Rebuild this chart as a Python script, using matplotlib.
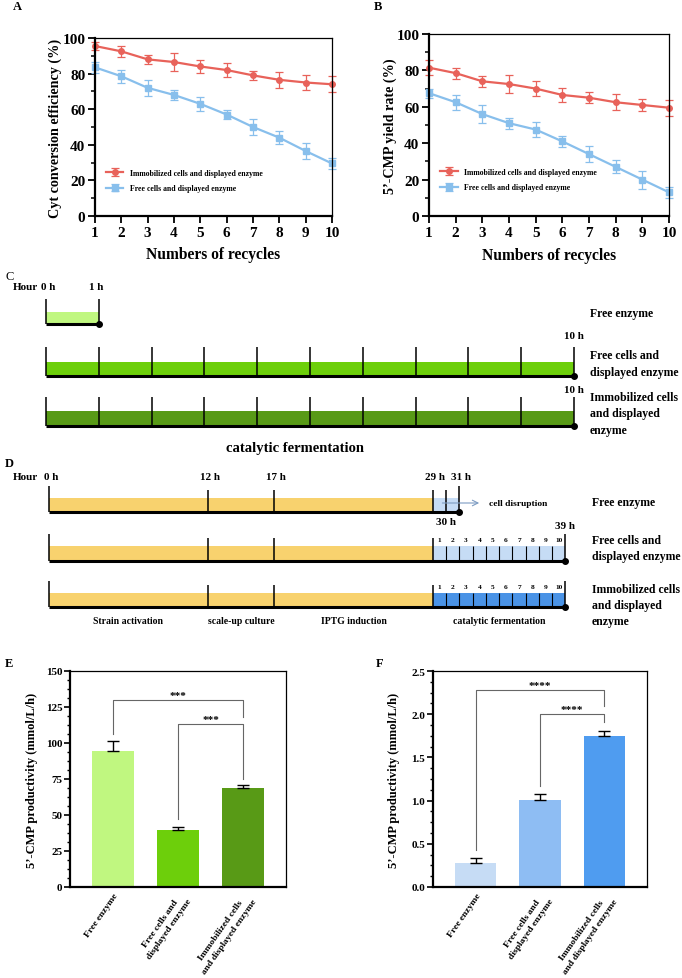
import numpy as np
import matplotlib
matplotlib.use("Agg")
import matplotlib.pyplot as plt
from matplotlib.ticker import MultipleLocator, FormatStrFormatter

plt.rcParams['font.family'] = ['Liberation Serif', 'DejaVu Serif']
plt.rcParams['font.weight'] = 'bold'
plt.rcParams['axes.labelweight'] = 'bold'

W, H = 682, 979

# --- A / B : recycling data
recycles = np.arange(1, 11)
a_immob = [95.5, 92.5, 88, 86.5, 84, 82, 79, 76.5, 75, 74]
a_immob_err = [2.5, 3, 2.5, 5, 3.5, 4, 2.5, 4.5, 4, 4.5]
a_free = [83.5, 78.5, 72, 68, 63, 57, 50, 44, 36.5, 29.5]
a_free_err = [3, 3.5, 4.5, 3, 4, 2.5, 4.5, 3.5, 4.5, 3]
b_immob = [81.5, 78.5, 74, 72.5, 70, 66.5, 65, 62.5, 61, 59.5]
b_immob_err = [4, 3, 3, 5, 4, 4, 3, 4.5, 3.5, 4.5]
b_free = [67.5, 62.5, 56, 51, 47.5, 41, 34, 27, 20, 13]
b_free_err = [2.5, 4, 5, 3, 4, 3, 4.5, 3.5, 5, 3]
series_labels = ['Immobilized cells and displayed enzyme', 'Free cells and displayed enzyme']

# --- C : catalytic fermentation only
c_groups = ['Free enzyme', 'Free cells and\ndisplayed enzyme', 'Immobilized cells\nand displayed\nenzyme']
c_hours = [1, 10, 10]

# --- D : whole process
d_groups = c_groups
d_stage_starts = [0, 12, 17, 29]
d_stage_ends = [12, 17, 29, 39]
d_stage_names = ['Strain activation', 'scale-up culture', 'IPTG induction', 'catalytic fermentation']
d_disrupt = [29, 30, 31]
d_cycles = list(range(1, 11))

# --- E / F : productivity
groups = ['Free enzyme', 'Free cells and\ndisplayed enzyme', 'Immobilized cells\nand displayed enzyme']
e_vals = [94.5, 39.5, 68.5]
e_err = [7, 2.5, 2]
f_vals = [0.28, 1.01, 1.75]
f_err = [0.06, 0.07, 0.05]
e_sig = ['***', '***']
f_sig = ['****', '****']

red = '#E8625A'
blue = '#88BFEC'
greens = ['#C0F780', '#6DCF0B', '#589A16']
blues = ['#C6DCF5', '#8EBDF3', '#4F9CF0']
orange = '#F8D26E'

fig = plt.figure(figsize=(W / 100, H / 100), dpi=100)


def px_axes(x0, y0, x1, y1):
    return fig.add_axes([x0 / W, 1 - y1 / H, (x1 - x0) / W, (y1 - y0) / H])


def ftext(x, y, s, **kw):
    fig.text(x / W, 1 - y / H, s, **kw)


def style_box(ax):
    for s in ['left', 'bottom']:
        ax.spines[s].set_linewidth(1.6)
    for s in ['top', 'right']:
        ax.spines[s].set_linewidth(0.9)


def recycle_panel(ax, immob, immob_err, free, free_err, ylabel, lab_x):
    ax.errorbar(recycles, immob, yerr=immob_err, color=red, marker='o', ms=4, lw=1.6,
                capsize=3, elinewidth=0.9, capthick=0.9, clip_on=False, label=series_labels[0])
    ax.errorbar(recycles, free, yerr=free_err, color=blue, marker='s', ms=4, lw=1.6,
                capsize=3, elinewidth=0.9, capthick=0.9, clip_on=False, label=series_labels[1])
    ax.set_xlim(1, 10)
    ax.set_ylim(0, 100)
    ax.set_xticks(recycles)
    ax.yaxis.set_major_locator(MultipleLocator(20))
    ax.yaxis.set_minor_locator(MultipleLocator(10))
    ax.tick_params(labelsize=11, width=1.3, length=5, pad=2)
    ax.tick_params(which='minor', width=1.1, length=3)
    style_box(ax)
    ax.set_ylabel(ylabel, fontsize=10.2)
    ax.set_xlabel('Numbers of recycles', fontsize=11.2)
    ax.yaxis.set_label_coords(lab_x, 0.5)
    ax.xaxis.set_label_coords(0.5, -0.17)
    ax.legend(loc='center left', bbox_to_anchor=(0.025, 0.2), frameon=False, fontsize=5.6,
              handlelength=2.2, labelspacing=1.0, borderaxespad=0.3)


axA = px_axes(95, 39, 332, 217)
recycle_panel(axA, a_immob, a_immob_err, a_free, a_free_err, 'Cyt conversion efficiency (%)', -0.14)
axB = px_axes(429, 35, 669, 217)
recycle_panel(axB, b_immob, b_immob_err, b_free, b_free_err, '5’-CMP yield rate (%)', -0.135)
ftext(13, 7, 'A', fontsize=9, va='center')
ftext(374, 7, 'B', fontsize=9, va='center')

# ---------------- C
axC = px_axes(0, 270, 682, 460)
axC.set_xlim(-46 / 52.8, (682 - 46) / 52.8)
axC.set_ylim(460, 270)
axC.axis('off')
c_rows = [(300, 313, 325), (348, 363, 377), (398, 412, 427)]
for i, (top, btop, bbot) in enumerate(c_rows):
    hrs = c_hours[i]
    axC.bar(0, bbot - btop, width=hrs, bottom=btop, align='edge', color=greens[i], lw=0)
    axC.vlines(np.arange(0, hrs + 1), top, bbot, color='black', lw=1.1)
    axC.hlines(bbot, 0, hrs, color='black', lw=2.2)
    axC.plot(hrs, bbot, 'o', color='black', ms=4)
    ftext(590, (top + bbot) / 2 + 2, c_groups[i], fontsize=8.5, va='center', linespacing=1.45)
axC.text(0.05, 288, '0 h', ha='center', va='center', fontsize=8)
axC.text(c_hours[0] - 0.05, 288, '1 h', ha='center', va='center', fontsize=8)
axC.text(c_hours[1], 337, '10 h', ha='center', va='center', fontsize=8)
axC.text(c_hours[2], 391, '10 h', ha='center', va='center', fontsize=8)
ftext(13, 288, 'Hour', fontsize=8, va='center')
ftext(5, 277, 'C', fontsize=9, va='center', fontweight='normal')
ftext(295, 449, 'catalytic fermentation', fontsize=10.5, ha='center', va='center')

# ---------------- D
axD = px_axes(0, 460, 682, 640)
axD.set_xlim(-49 / 13.24, (682 - 49) / 13.24)
axD.set_ylim(640, 460)
axD.axis('off')
end_h = d_stage_ends[-1]
cult_h = d_stage_starts[-1]
# row 1: free enzyme, cell disruption
axD.bar(0, 14, width=cult_h, bottom=499, align='edge', color=orange, lw=0)
axD.bar(d_disrupt[0], 14, width=d_disrupt[-1] - d_disrupt[0], bottom=499, align='edge', color=blues[0], lw=0)
axD.vlines([0, d_disrupt[-1]], 487, 513, color='black', lw=1.1)
axD.vlines(d_stage_starts[1:] + d_disrupt[1:2], 491, 513, color='black', lw=1.1)
axD.hlines(513, 0, d_disrupt[-1], color='black', lw=2.2)
axD.plot(d_disrupt[-1], 513, 'o', color='black', ms=4)
axD.annotate('', xy=(32.7, 504), xytext=(29.5, 504),
             arrowprops=dict(arrowstyle='->', color='#7D9CC2', lw=0.8))
axD.text(33.2, 504, 'cell disruption', fontsize=6.8, va='center')
# rows 2 and 3
d_rows = [(535, 547, 562, blues[0]), (582, 594, 608, '#4A93E6')]
for top, btop, bbot, col in d_rows:
    axD.bar(0, bbot - btop, width=cult_h, bottom=btop, align='edge', color=orange, lw=0)
    axD.bar(cult_h, bbot - btop, width=end_h - cult_h, bottom=btop, align='edge', color=col, lw=0)
    axD.vlines([0, end_h], top, bbot, color='black', lw=1.1)
    axD.vlines(d_stage_starts[1:], top + 4, bbot, color='black', lw=1.1)
    axD.vlines(np.arange(cult_h + 1, end_h), btop, bbot, color='black', lw=0.8)
    axD.hlines(bbot, 0, end_h, color='black', lw=2.2)
    axD.plot(end_h, bbot, 'o', color='black', ms=4)
    for k in d_cycles:
        axD.text(cult_h + k - 0.5, top + 6, str(k), fontsize=5.3, ha='center', va='center')
for h in [0] + d_stage_starts[1:] + [d_disrupt[-1]]:
    axD.text(h + 0.15, 478, '%d h' % h, fontsize=8, ha='center', va='center')
axD.text(d_disrupt[1], 523, '%d h' % d_disrupt[1], fontsize=8, ha='center', va='center')
axD.text(end_h, 527, '%d h' % end_h, fontsize=8, ha='center', va='center')
for s, e, name in zip(d_stage_starts, d_stage_ends, d_stage_names):
    axD.text((s + e) / 2, 622, name, fontsize=7, ha='center', va='center')
ftext(13, 478, 'Hour', fontsize=8, va='center')
ftext(5, 464, 'D', fontsize=9, va='center')
for y, g in zip([503, 549, 606], d_groups):
    ftext(592, y, g, fontsize=8.5, va='center', linespacing=1.45)


# ---------------- E / F
def bracket(ax, x1, x2, ytop, y1, y2, txt):
    ax.plot([x1, x1, x2, x2], [y1, ytop, ytop, y2], color='#666666', lw=0.8)
    ax.text((x1 + x2) / 2, ytop, txt, ha='center', va='bottom', fontsize=8)


def bar_panel(ax, vals, errs, cols, ymax, step, minor, lab_x):
    x = np.arange(len(vals))
    ax.bar(x, vals, width=0.65, color=cols, lw=0)
    ax.errorbar(x, vals, yerr=[np.zeros(len(errs)), errs], fmt='none', ecolor='black',
                elinewidth=1, capsize=4.5, capthick=1)
    ax.set_xlim(-0.66, 2.66)
    ax.set_ylim(0, ymax)
    ax.yaxis.set_major_locator(MultipleLocator(step))
    ax.yaxis.set_minor_locator(MultipleLocator(minor))
    ax.set_xticks(x)
    ax.set_xticklabels(groups, rotation=55, ha='right', rotation_mode='anchor',
                       multialignment='center', fontsize=6.8, linespacing=1.35)
    ax.tick_params(axis='y', labelsize=8, width=1.2, length=4, pad=1.5)
    ax.tick_params(axis='y', which='minor', width=1, length=2.5)
    ax.tick_params(axis='x', length=0, pad=3)
    style_box(ax)
    ax.set_ylabel('5’-CMP productivity (mmol/L/h)', fontsize=9)
    ax.yaxis.set_label_coords(lab_x, 0.5)


axE = px_axes(70, 672, 286, 888)
bar_panel(axE, e_vals, e_err, greens, 150, 25, 6.25, -0.15)
bracket(axE, 0, 2, 130, 106, 118, e_sig[0])
bracket(axE, 1, 2, 113, 47, 75, e_sig[1])
ftext(5, 664, 'E', fontsize=9, va='center')

axF = px_axes(433, 672, 647, 888)
bar_panel(axF, f_vals, f_err, blues, 2.5, 0.5, 0.125, -0.155)
axF.yaxis.set_major_formatter(FormatStrFormatter('%.1f'))
bracket(axF, 0, 2, 2.28, 0.43, 2.1, f_sig[0])
bracket(axF, 1, 2, 2.0, 1.17, 1.91, f_sig[1])
ftext(376, 664, 'F', fontsize=9, va='center')

fig.savefig('out.png', dpi=100)
